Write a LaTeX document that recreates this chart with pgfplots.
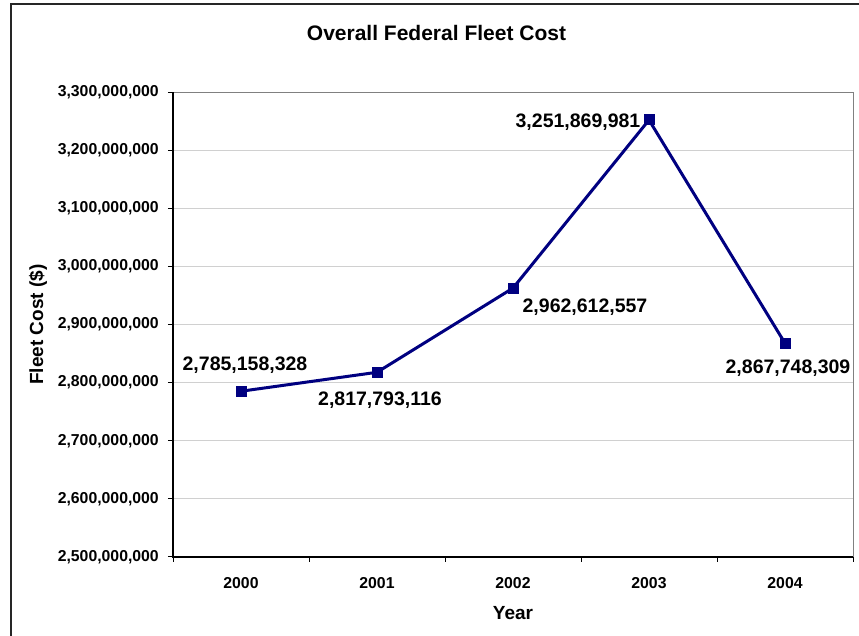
\documentclass[border=0pt]{standalone}
\usepackage{fontspec}
\setmainfont{Liberation Sans}
\usepackage{pgfplots}
\pgfplotsset{compat=1.18}
\usepackage{pgfplotstable}
\definecolor{navyline}{RGB}{0,0,128}
\definecolor{gridgray}{RGB}{208,208,208}

\pgfplotstableread{
x y dx dy label
0 2785158328 4 26 2,785,158,328
1 2817793116 3 -28 2,817,793,116
2 2962612557 72 -19 2,962,612,557
3 3251869981 -71 -2 3,251,869,981
4 2867748309 3 -25 2,867,748,309
}\costdata

\begin{document}
\begin{tikzpicture}
\path[use as bounding box] (0,0) rectangle (859bp,636bp);
\draw[line width=1.5bp, black!85] (11bp,-5bp) -- (11bp,632bp) -- (870bp,632bp);
\begin{axis}[
  at={(173bp,79bp)}, anchor=south west,
  scale only axis, width=680bp, height=465bp,
  clip=false,
  xmin=-0.5, xmax=4.5, ymin=2500000000, ymax=3300000000,
  axis line style={draw=black!50, line width=1bp},
  tick pos=left, tick align=outside,
  major tick length=5bp,
  tick style={black, line width=1bp},
  xtick={-0.5,0.5,1.5,2.5,3.5,4.5},
  xticklabels={},
  extra x ticks={0,1,2,3,4},
  extra x tick labels={2000,2001,2002,2003,2004},
  extra x tick style={major tick length=0pt, grid=none,
    xticklabel style={font=\fontsize{15.8bp}{18bp}\selectfont\bfseries, anchor=center, yshift=-26bp}},
  ytick={2500000000,2600000000,2700000000,2800000000,2900000000,3000000000,3100000000,3200000000,3300000000},
  yticklabels={{2,500,000,000},{2,600,000,000},{2,700,000,000},{2,800,000,000},{2,900,000,000},{3,000,000,000},{3,100,000,000},{3,200,000,000},{3,300,000,000}},
  scaled y ticks=false,
  yticklabel style={font=\fontsize{15.8bp}{18bp}\selectfont\bfseries, anchor=east, inner sep=0pt, xshift=-9bp},
  ymajorgrids, major grid style={draw=gridgray, line width=1bp},
  title={Overall Federal Fleet Cost},
  title style={at={(axis description cs:0.3875,1.114)}, anchor=center, font=\fontsize{21bp}{24bp}\selectfont\bfseries},
  xlabel={Year},
  xlabel style={at={(axis description cs:0.5,-0.1204)}, anchor=center, font=\fontsize{19bp}{22bp}\selectfont\bfseries},
  ylabel={Fleet Cost (\$)},
  ylabel style={at={(axis description cs:-0.1985,0.5)}, anchor=center, font=\fontsize{19bp}{22bp}\selectfont\bfseries},
]
\addplot[navyline, line width=3bp, mark=square*, mark size=5bp,
  mark options={solid, fill=navyline, draw=navyline, line width=0pt},
  point meta=explicit symbolic,
  nodes near coords,
  visualization depends on={\thisrow{dx} \as \dx},
  visualization depends on={\thisrow{dy} \as \dy},
  nodes near coords style={anchor=center, black, font=\fontsize{19.5bp}{22bp}\selectfont\bfseries, xshift=\dx bp, yshift=\dy bp},
] table[x=x, y=y, meta=label] {\costdata};
\draw[black, line width=2bp] (axis description cs:0,1) -- (axis description cs:0,0) -- (axis description cs:1,0);
\end{axis}
\end{tikzpicture}
\end{document}
